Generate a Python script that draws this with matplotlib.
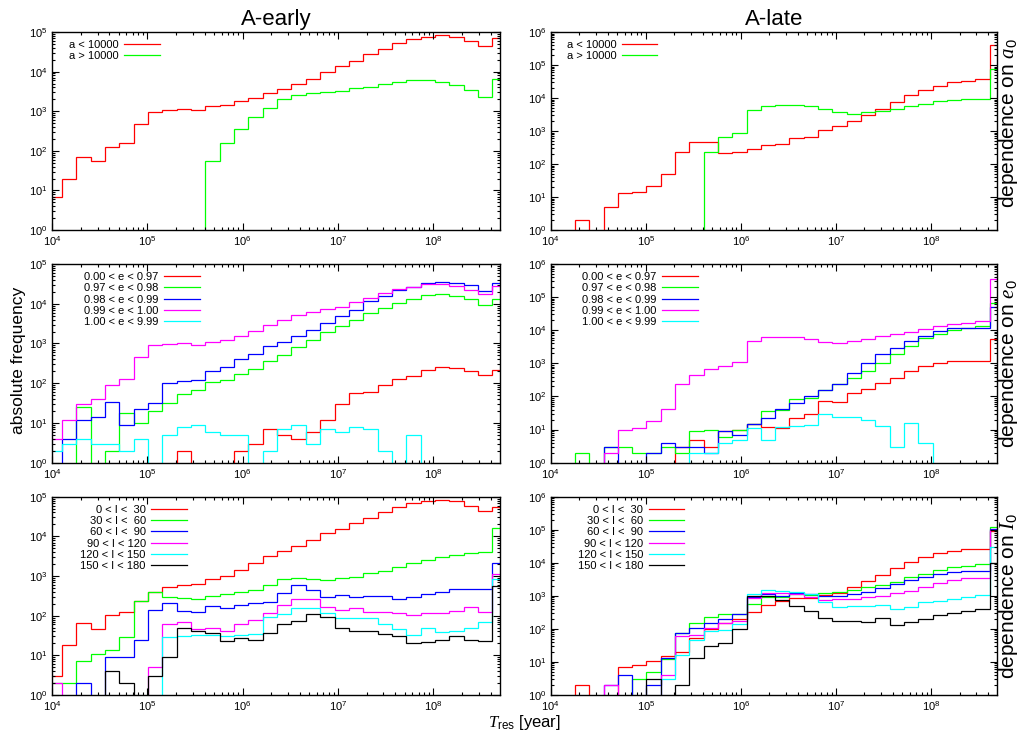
import numpy as np
import matplotlib
matplotlib.use('Agg')
import matplotlib.pyplot as plt
from matplotlib.ticker import FixedLocator, NullFormatter

plt.rcParams['font.family'] = ['Liberation Sans', 'DejaVu Sans']
plt.rcParams['mathtext.fontset'] = 'custom'
plt.rcParams['mathtext.rm'] = 'Liberation Sans'
plt.rcParams['mathtext.it'] = 'Liberation Serif:italic'

# histogram bins in T_res: factor sqrt(2) per bin, 32 bins
bin_edges = 8.98e3 * 2.0 ** (np.arange(33) / 2)

# ---- A-early / dependence on a0
early_a_lo = [7, 20, 72, 56, 128, 162, 480, 950, 1100, 1170, 1100, 1380, 1450, 1800, 2150, 2900,
              3750, 4900, 6600, 10000, 13500, 18800, 27700, 37000, 51600, 66000, 77000, 83000, 74000, 61000, 44000, 70000]
early_a_hi = [0, 0, 0, 0, 0, 0, 0, 0, 0, 0, 0, 55, 155, 350, 700, 1240,
              2000, 2600, 2950, 3150, 3300, 3800, 4200, 4800, 5400, 6000, 6000, 5400, 4500, 3450, 2350, 6500]

# ---- A-late / dependence on a0
late_a_lo = [0, 0, 2, 0, 5, 13, 14, 22, 49, 240, 450, 450, 210, 240, 280, 365,
             410, 610, 680, 1090, 1440, 2040, 3100, 4800, 7600, 12000, 17000, 23500, 29600, 34000, 37500, 415000]
late_a_hi = [0, 0, 0, 0, 0, 0, 0, 0, 0, 0, 0, 240, 650, 900, 4400, 5800,
             6000, 6000, 5800, 4800, 3700, 3300, 3650, 4100, 4700, 5700, 6700, 8300, 8500, 9300, 9100, 76000]

# ---- A-early / dependence on e0
early_e1 = [0, 0, 0, 0, 0, 0, 0, 0, 0, 2, 0, 0, 0, 2, 3, 7,
            5, 4, 6, 12, 30, 56, 60, 88, 130, 150, 215, 255, 240, 200, 165, 220]
early_e2 = [0, 0, 25, 0, 2, 18, 10, 20, 31, 52, 67, 110, 120, 167, 230, 370,
            500, 800, 1200, 1900, 2800, 4000, 5800, 7800, 10500, 13500, 16500, 17500, 16000, 13000, 9200, 13000]
early_e3 = [0, 4, 12, 14, 33, 9, 23, 31, 99, 111, 118, 203, 250, 400, 540, 860,
            1100, 1580, 2200, 3300, 4900, 6900, 11500, 15800, 22000, 26000, 34000, 36000, 34000, 30000, 21500, 34000]
early_e4 = [4, 12, 30, 39, 90, 130, 450, 900, 980, 1000, 900, 1080, 1230, 1540, 2100, 2900,
            3800, 5100, 6200, 7500, 8500, 11000, 13700, 18300, 23000, 27000, 31500, 31000, 28000, 21800, 18000, 28000]
early_e5 = [2, 3, 4, 3, 3, 2, 4, 0, 5, 8, 9, 6, 5, 5, 0, 2,
            7, 9, 3, 7, 6, 8, 7, 2, 0, 5, 0, 0, 0, 0, 0, 0]

# ---- A-late / dependence on e0
late_e1 = [0, 0, 0, 0, 0, 0, 0, 0, 0, 3, 5, 3, 9, 10, 15, 12,
           11, 23, 30, 75, 68, 125, 165, 260, 370, 590, 830, 1000, 1150, 1200, 1200, 5500]
late_e2 = [0, 0, 2, 0, 3, 3, 2, 2, 3, 2, 9, 10, 6, 10, 15, 36,
           40, 85, 90, 160, 230, 360, 580, 1000, 1900, 3400, 5700, 7700, 10000, 12000, 13500, 65000]
late_e3 = [0, 0, 0, 0, 3, 0, 0, 2, 4, 3, 3, 2, 9, 7, 15, 22,
           41, 62, 100, 155, 240, 500, 1050, 1900, 3000, 4700, 6700, 9500, 11700, 12000, 12000, 51000]
late_e4 = [0, 0, 0, 0, 2, 10, 11, 18, 42, 240, 445, 680, 830, 1130, 4600, 6100,
           6200, 6400, 5300, 4500, 4200, 4700, 5400, 6600, 7600, 9100, 11000, 13500, 15500, 17000, 19000, 360000]
late_e5 = [0, 0, 0, 0, 0, 0, 0, 0, 0, 0, 2, 2, 4, 5, 11, 5,
           12, 13, 14, 30, 24, 24, 20, 13, 3, 16, 4, 0, 0, 0, 0, 0]

# ---- A-early / dependence on I0
early_i1 = [3, 18, 64, 45, 104, 121, 240, 390, 520, 580, 630, 830, 1020, 1420, 2130, 3200,
            4300, 5700, 7900, 12000, 15200, 21700, 29500, 41000, 56000, 71000, 78000, 81000, 76000, 58000, 43000, 56000]
early_i2 = [2, 2, 7, 11, 14, 29, 240, 385, 290, 280, 260, 320, 350, 400, 440, 580,
            830, 890, 830, 800, 870, 920, 1170, 1360, 1650, 2100, 2530, 2950, 3450, 3850, 4100, 16000]
early_i3 = [0, 0, 2, 0, 9, 9, 25, 138, 204, 130, 121, 175, 153, 182, 204, 220,
            365, 580, 445, 300, 340, 300, 310, 310, 260, 300, 350, 390, 460, 480, 480, 2150]
early_i4 = [2, 0, 0, 0, 0, 0, 0, 5, 60, 70, 45, 50, 42, 62, 80, 120,
            182, 270, 270, 170, 140, 160, 124, 124, 115, 104, 120, 120, 134, 170, 124, 1100]
early_i5 = [0, 0, 0, 0, 0, 0, 0, 0, 29, 30, 32, 32, 30, 32, 34, 94,
            108, 160, 153, 115, 89, 86, 86, 60, 45, 32, 48, 39, 41, 50, 70, 840]
early_i6 = [0, 0, 0, 0, 4, 2, 0, 3, 9, 50, 42, 36, 23, 28, 25, 37,
            62, 75, 108, 91, 48, 42, 41, 34, 30, 21, 22, 25, 30, 25, 23, 560]

# ---- A-late / dependence on I0
late_i1 = [0, 0, 2, 0, 0, 7, 8, 11, 15, 20, 53, 100, 150, 200, 335, 535,
           690, 850, 880, 1070, 1230, 1820, 2760, 4300, 6900, 10300, 15200, 19200, 23000, 25800, 25800, 92000]
late_i2 = [0, 0, 0, 0, 0, 0, 3, 5, 12, 77, 155, 228, 290, 290, 570, 910,
           910, 1150, 1070, 1200, 1350, 1550, 1900, 2140, 2700, 3650, 4600, 6000, 7300, 8100, 9200, 120000]
late_i3 = [0, 0, 0, 0, 2, 4, 0, 2, 13, 77, 105, 155, 195, 290, 900, 1100,
           1000, 1200, 1150, 980, 1000, 1150, 1350, 1700, 2300, 3000, 3800, 4600, 5100, 5500, 5800, 105000]
late_i4 = [0, 0, 0, 0, 2, 0, 0, 0, 4, 60, 65, 110, 150, 175, 850, 1200,
           1250, 1100, 950, 750, 780, 830, 900, 1000, 1200, 1400, 1900, 2500, 3000, 3400, 3400, 100000]
late_i5 = [0, 0, 0, 0, 0, 0, 0, 0, 3, 16, 47, 84, 90, 137, 1150, 1500,
           1400, 1300, 1100, 650, 470, 480, 490, 515, 400, 470, 630, 700, 800, 950, 1080, 31000]
late_i6 = [0, 0, 0, 0, 0, 0, 0, 3, 0, 2, 13, 30, 38, 97, 980, 980,
           760, 510, 360, 210, 170, 170, 160, 215, 135, 165, 205, 255, 300, 360, 400, 10000]

a_labels = ['a < 10000', 'a > 10000']
e_labels = ['0.00 < e < 0.97', '0.97 < e < 0.98', '0.98 < e < 0.99', '0.99 < e < 1.00', '1.00 < e < 9.99']
i_labels = ['0 < I <  30', '30 < I <  60', '60 < I <  90', '90 < I < 120', '120 < I < 150', '150 < I < 180']
colors = ['#ff0000', '#00ff00', '#0000ff', '#ff00ff', '#00ffff', '#000000']

x_ticks = [1e4, 1e5, 1e6, 1e7, 1e8]


def minor_ticks(lo_exp, hi_exp, stop):
    # 2..9 x 10^n, kept inside the axis range
    vals = [m * 10.0 ** n for n in range(lo_exp, hi_exp) for m in range(2, 10)]
    return [v for v in vals if v < stop]


def draw_panel(ax, series, labels, ymax_exp, legend_x):
    """one log-log step histogram panel"""
    for vals, lab, col in zip(series, labels, colors):
        ax.stairs(vals, bin_edges, baseline=None, color=col, lw=0.9, label=lab)

    ax.set_xscale('log')
    ax.set_yscale('log')
    ax.set_xlim(1e4, 5e8)
    ax.set_ylim(1, 10.0 ** ymax_exp)

    ax.set_xticks(x_ticks)
    ax.xaxis.set_minor_locator(FixedLocator(minor_ticks(4, 9, 5e8)))
    ax.set_yticks([10.0 ** k for k in range(ymax_exp + 1)])
    ax.yaxis.set_minor_locator(FixedLocator(minor_ticks(0, ymax_exp, 10.0 ** ymax_exp)))
    ax.xaxis.set_minor_formatter(NullFormatter())
    ax.yaxis.set_minor_formatter(NullFormatter())

    ax.tick_params(which='both', direction='in', top=True, right=True, labelsize=8, width=0.8)
    ax.tick_params(which='major', length=5, pad=3)
    ax.tick_params(which='minor', length=2.5)
    for sp in ax.spines.values():
        sp.set_linewidth(1.0)

    ax.legend(loc='upper right', bbox_to_anchor=(legend_x, 0.96), frameon=False,
              markerfirst=False, fontsize=8, handlelength=3.2, handletextpad=0.5,
              labelspacing=0.12, borderpad=0, borderaxespad=0)


fig = plt.figure(figsize=(10.18, 7.35), dpi=100)

left_x, left_w = 0.0511, 0.440
right_x, right_w = 0.541, 0.4387
rows = [(0.687, 0.2694), (0.3705, 0.2703), (0.0544, 0.2698)]

panels = [
    ([early_a_lo, early_a_hi], a_labels, [late_a_lo, late_a_hi], 0.241, 0.239),
    ([early_e1, early_e2, early_e3, early_e4, early_e5], e_labels,
     [late_e1, late_e2, late_e3, late_e4, late_e5], 0.330, 0.329),
    ([early_i1, early_i2, early_i3, early_i4, early_i5, early_i6], i_labels,
     [late_i1, late_i2, late_i3, late_i4, late_i5, late_i6], 0.301, 0.299),
]
right_names = [r'dependence on $a_0$', r'dependence on $e_0$', r'dependence on $I_0$']
right_name_y = [0.54, 0.5, 0.5]

for r, (early, labs, late, lx_l, lx_r) in enumerate(panels):
    b, h = rows[r]
    ax_l = fig.add_axes([left_x, b, left_w, h])
    ax_r = fig.add_axes([right_x, b, right_w, h])
    draw_panel(ax_l, early, labs, 5, lx_l)
    draw_panel(ax_r, late, labs, 6, lx_r)
    ax_r.text(1.025, right_name_y[r], right_names[r], transform=ax_r.transAxes, rotation=90,
              ha='center', va='center', fontsize=15)
    if r == 0:
        ax_l.set_title('A-early', fontsize=16, pad=5)
        ax_r.set_title('A-late', fontsize=16, pad=5)

fig.text(0.018, 0.51, 'absolute frequency', rotation=90, ha='center', va='center', fontsize=12.5)
fig.text(0.515, 0.0165, r'$T_{\rm res}$ [year]', ha='center', va='center', fontsize=12)

fig.savefig('out.png', dpi=100)
